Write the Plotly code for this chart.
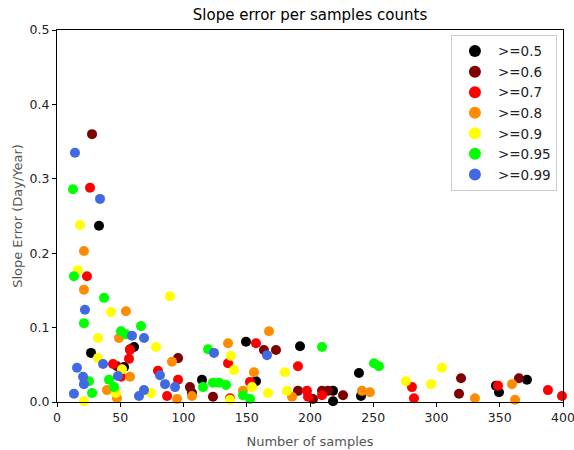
import plotly.graph_objects as go

labels = [">=0.5", ">=0.6", ">=0.7", ">=0.8", ">=0.9", ">=0.95", ">=0.99"]
colors = ["#000000", "#800000", "#ff0000", "#ff8c00", "#ffff00", "#00ff00", "#4169e1"]

x_05 = [33.2, 26.9, 60.9, 53.0, 114.6, 149.4, 157.3, 106.7, 192.1, 238.7, 218.2, 218.2, 240.3, 347.0, 349.4, 371.5]
y_05 = [0.237, 0.066, 0.074, 0.047, 0.030, 0.081, 0.028, 0.012, 0.075, 0.039, 0.015, 0.001, 0.008, 0.022, 0.013, 0.030]

x_06 = [27.7, 57.7, 47.4, 95.7, 163.6, 173.1, 105.1, 123.3, 190.5, 209.5, 214.2, 226.1, 202.4, 319.4, 317.8, 365.2]
y_06 = [0.360, 0.071, 0.048, 0.059, 0.070, 0.070, 0.020, 0.007, 0.015, 0.015, 0.015, 0.009, 0.004, 0.032, 0.011, 0.032]

x_07 = [26.1, 23.7, 57.7, 56.9, 44.3, 50.6, 79.8, 87.0, 95.7, 157.3, 135.2, 152.6, 136.8, 190.5, 197.6, 198.4, 209.5, 280.6, 282.2, 348.6, 388.1, 399.2]
y_07 = [0.288, 0.169, 0.070, 0.058, 0.051, 0.034, 0.042, 0.008, 0.030, 0.079, 0.052, 0.027, 0.005, 0.048, 0.015, 0.007, 0.009, 0.020, 0.005, 0.022, 0.016, 0.008]

x_08 = [21.3, 21.3, 54.5, 49.0, 90.9, 57.7, 39.5, 47.4, 94.9, 106.7, 135.2, 155.7, 147.0, 167.6, 185.8, 241.1, 247.4, 330.4, 359.7, 362.1]
y_08 = [0.203, 0.151, 0.122, 0.086, 0.054, 0.034, 0.016, 0.005, 0.004, 0.008, 0.079, 0.040, 0.015, 0.095, 0.007, 0.015, 0.013, 0.005, 0.024, 0.003]

x_09 = [18.2, 16.6, 42.7, 32.4, 89.3, 78.3, 32.4, 51.4, 74.3, 21.3, 46.6, 137.5, 139.9, 154.2, 166.8, 180.2, 181.8, 136.8, 275.9, 304.3, 295.7]
y_09 = [0.238, 0.177, 0.121, 0.086, 0.142, 0.074, 0.059, 0.044, 0.012, 0.001, 0.012, 0.062, 0.043, 0.020, 0.012, 0.040, 0.015, 0.003, 0.028, 0.046, 0.024]

x_095 = [12.6, 13.4, 37.2, 21.3, 66.4, 50.6, 54.5, 25.3, 27.7, 41.1, 45.1, 119.4, 115.4, 123.3, 128.1, 133.6, 147.0, 152.6, 209.5, 250.6, 254.5]
y_095 = [0.286, 0.169, 0.140, 0.106, 0.102, 0.095, 0.091, 0.028, 0.012, 0.030, 0.020, 0.071, 0.020, 0.026, 0.026, 0.023, 0.009, 0.004, 0.074, 0.052, 0.048]

x_099 = [14.2, 34.0, 22.1, 59.3, 68.8, 15.8, 36.4, 20.6, 21.3, 13.4, 48.2, 64.8, 68.8, 81.4, 85.4, 93.3, 124.1, 166.0]
y_099 = [0.335, 0.273, 0.124, 0.089, 0.086, 0.046, 0.051, 0.034, 0.024, 0.011, 0.035, 0.008, 0.016, 0.036, 0.024, 0.020, 0.066, 0.063]

xs = [x_05, x_06, x_07, x_08, x_09, x_095, x_099]
ys = [y_05, y_06, y_07, y_08, y_09, y_095, y_099]

fig = go.Figure()
for lab, col, xv, yv in zip(labels, colors, xs, ys):
    fig.add_trace(go.Scatter(
        x=xv, y=yv, mode="markers", name=lab,
        marker=dict(color=col, size=10, line=dict(width=0)),
        cliponaxis=False,
    ))

font_family = "DejaVu Sans, sans-serif"
fig.update_layout(
    width=574, height=450,
    margin=dict(l=57, r=11, t=30, b=48, autoexpand=False),
    paper_bgcolor="white", plot_bgcolor="white",
    font=dict(family=font_family, size=12, color="#000000"),
    title=dict(text="Slope error per samples counts", x=0.5, xref="paper",
               y=1 - 15 / 450, yanchor="middle",
               font=dict(size=15, color="#000000")),
    showlegend=True,
    legend=dict(
        x=0.988, y=0.987, xanchor="right", yanchor="top",
        bgcolor="rgba(255,255,255,0.8)", bordercolor="#cccccc", borderwidth=1,
        font=dict(size=13.5, color="#222222"),
        tracegroupgap=0, itemsizing="constant", itemwidth=36,
    ),
)
fig.update_xaxes(
    range=[0, 400], tickvals=[0, 50, 100, 150, 200, 250, 300, 350, 400],
    ticks="outside", ticklen=4, tickcolor="#000", tickfont=dict(size=12.5, color="#222"),
    ticklabeloverflow="allow",
    showline=True, linecolor="#000", linewidth=1, mirror=True,
    showgrid=False, zeroline=False, automargin=False,
    title=dict(text="Number of samples", font=dict(size=13, color="#555555"), standoff=12),
)
fig.update_yaxes(
    range=[0, 0.5], tickvals=[0, 0.1, 0.2, 0.3, 0.4, 0.5],
    ticktext=["0.0", "0.1", "0.2", "0.3", "0.4", "0.5"],
    ticks="outside", ticklen=4, tickcolor="#000", tickfont=dict(size=12.5, color="#222"),
    ticklabeloverflow="allow",
    showline=True, linecolor="#000", linewidth=1, mirror=True,
    showgrid=False, zeroline=False, automargin=False,
    title=dict(text="Slope Error (Day/Year)", font=dict(size=13, color="#555555"), standoff=4),
)

fig.write_html("out.html")
